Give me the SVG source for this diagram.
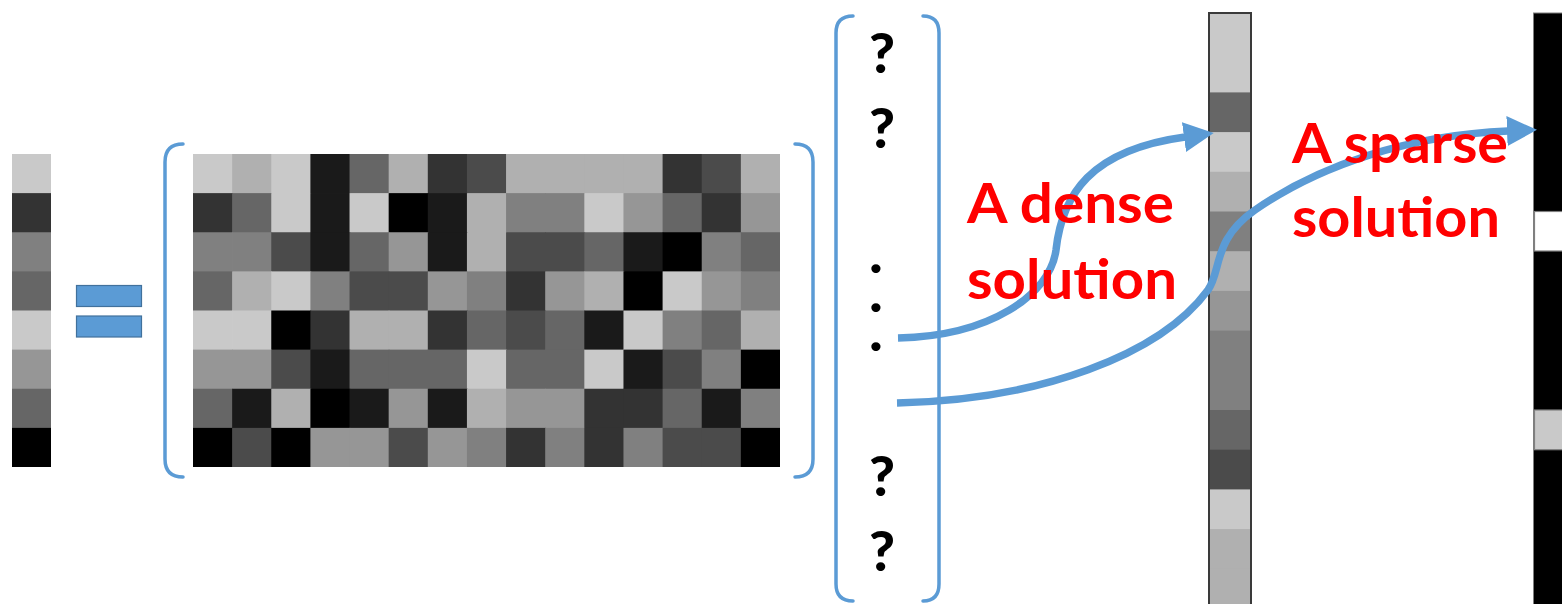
<svg xmlns="http://www.w3.org/2000/svg" width="1562" height="604" viewBox="0 0 1562 604">
<defs>
<style>
.g0{fill:#000000}.g1{fill:#1a1a1a}.g2{fill:#333333}.g3{fill:#4b4b4b}.g4{fill:#666666}.g5{fill:#808080}.g6{fill:#969696}.g7{fill:#b0b0b0}.g8{fill:#c9c9c9}
.br{fill:none;stroke:#5b9bd5;stroke-width:3.5;stroke-linecap:round}
.conn{fill:none;stroke:#5b9bd5;stroke-width:7.5}
.q{font-family:Lato,"Liberation Sans",sans-serif;font-weight:900;font-size:56px;fill:#000;text-anchor:middle}
.lbl{font-family:Lato,"Liberation Sans",sans-serif;font-weight:bold;font-size:56px;fill:#ff0000}
.eq{fill:#5b9bd5;stroke:#41719c;stroke-width:1.2}
</style>
<marker id="ah" markerUnits="userSpaceOnUse" viewBox="0 -15 30 30" refX="1" refY="0" markerWidth="30" markerHeight="30" orient="auto">
<path d="M0,-15 L30,0 L0,15 Z" fill="#5b9bd5"/>
</marker>
</defs>
<rect width="1562" height="604" fill="#ffffff"/>

<g id="vector-b">
<g transform="translate(12,154) scale(39,39.125)">
<rect class="g8" x="0" y="0" width="1" height="1.02"/>
<rect class="g2" x="0" y="1" width="1" height="1.02"/>
<rect class="g5" x="0" y="2" width="1" height="1.02"/>
<rect class="g4" x="0" y="3" width="1" height="1.02"/>
<rect class="g8" x="0" y="4" width="1" height="1.02"/>
<rect class="g6" x="0" y="5" width="1" height="1.02"/>
<rect class="g4" x="0" y="6" width="1" height="1.02"/>
<rect class="g0" x="0" y="7" width="1" height="1"/>
</g>
</g>

<g id="equals">
<rect class="eq" x="76.5" y="285.5" width="65" height="21"/>
<rect class="eq" x="76.5" y="316" width="65" height="21"/>
</g>

<g id="matrix-A">
<path class="br" d="M183,144 Q165,144 165,162 L165,459 Q165,477 183,477"/>
<path class="br" d="M795,144 Q813,144 813,162 L813,459 Q813,477 795,477"/>
<g transform="translate(193,154) scale(39.133,39.125)">
<g transform="translate(0,0)">
<rect class="g8" x="0" width="1.02" height="1.02"/><rect class="g7" x="1" width="1.02" height="1.02"/><rect class="g8" x="2" width="1.02" height="1.02"/><rect class="g1" x="3" width="1.02" height="1.02"/><rect class="g4" x="4" width="1.02" height="1.02"/><rect class="g7" x="5" width="1.02" height="1.02"/><rect class="g2" x="6" width="1.02" height="1.02"/><rect class="g3" x="7" width="1.02" height="1.02"/><rect class="g7" x="8" width="1.02" height="1.02"/><rect class="g7" x="9" width="1.02" height="1.02"/><rect class="g7" x="10" width="1.02" height="1.02"/><rect class="g7" x="11" width="1.02" height="1.02"/><rect class="g2" x="12" width="1.02" height="1.02"/><rect class="g3" x="13" width="1.02" height="1.02"/><rect class="g7" x="14" width="1" height="1.02"/>
</g>
<g transform="translate(0,1)">
<rect class="g2" x="0" width="1.02" height="1.02"/><rect class="g4" x="1" width="1.02" height="1.02"/><rect class="g8" x="2" width="1.02" height="1.02"/><rect class="g1" x="3" width="1.02" height="1.02"/><rect class="g8" x="4" width="1.02" height="1.02"/><rect class="g0" x="5" width="1.02" height="1.02"/><rect class="g1" x="6" width="1.02" height="1.02"/><rect class="g7" x="7" width="1.02" height="1.02"/><rect class="g5" x="8" width="1.02" height="1.02"/><rect class="g5" x="9" width="1.02" height="1.02"/><rect class="g8" x="10" width="1.02" height="1.02"/><rect class="g6" x="11" width="1.02" height="1.02"/><rect class="g4" x="12" width="1.02" height="1.02"/><rect class="g2" x="13" width="1.02" height="1.02"/><rect class="g6" x="14" width="1" height="1.02"/>
</g>
<g transform="translate(0,2)">
<rect class="g5" x="0" width="1.02" height="1.02"/><rect class="g5" x="1" width="1.02" height="1.02"/><rect class="g3" x="2" width="1.02" height="1.02"/><rect class="g1" x="3" width="1.02" height="1.02"/><rect class="g4" x="4" width="1.02" height="1.02"/><rect class="g6" x="5" width="1.02" height="1.02"/><rect class="g1" x="6" width="1.02" height="1.02"/><rect class="g7" x="7" width="1.02" height="1.02"/><rect class="g3" x="8" width="1.02" height="1.02"/><rect class="g3" x="9" width="1.02" height="1.02"/><rect class="g4" x="10" width="1.02" height="1.02"/><rect class="g1" x="11" width="1.02" height="1.02"/><rect class="g0" x="12" width="1.02" height="1.02"/><rect class="g5" x="13" width="1.02" height="1.02"/><rect class="g4" x="14" width="1" height="1.02"/>
</g>
<g transform="translate(0,3)">
<rect class="g4" x="0" width="1.02" height="1.02"/><rect class="g7" x="1" width="1.02" height="1.02"/><rect class="g8" x="2" width="1.02" height="1.02"/><rect class="g5" x="3" width="1.02" height="1.02"/><rect class="g3" x="4" width="1.02" height="1.02"/><rect class="g3" x="5" width="1.02" height="1.02"/><rect class="g6" x="6" width="1.02" height="1.02"/><rect class="g5" x="7" width="1.02" height="1.02"/><rect class="g2" x="8" width="1.02" height="1.02"/><rect class="g6" x="9" width="1.02" height="1.02"/><rect class="g7" x="10" width="1.02" height="1.02"/><rect class="g0" x="11" width="1.02" height="1.02"/><rect class="g8" x="12" width="1.02" height="1.02"/><rect class="g6" x="13" width="1.02" height="1.02"/><rect class="g5" x="14" width="1" height="1.02"/>
</g>
<g transform="translate(0,4)">
<rect class="g8" x="0" width="1.02" height="1.02"/><rect class="g8" x="1" width="1.02" height="1.02"/><rect class="g0" x="2" width="1.02" height="1.02"/><rect class="g2" x="3" width="1.02" height="1.02"/><rect class="g7" x="4" width="1.02" height="1.02"/><rect class="g7" x="5" width="1.02" height="1.02"/><rect class="g2" x="6" width="1.02" height="1.02"/><rect class="g4" x="7" width="1.02" height="1.02"/><rect class="g3" x="8" width="1.02" height="1.02"/><rect class="g4" x="9" width="1.02" height="1.02"/><rect class="g1" x="10" width="1.02" height="1.02"/><rect class="g8" x="11" width="1.02" height="1.02"/><rect class="g5" x="12" width="1.02" height="1.02"/><rect class="g4" x="13" width="1.02" height="1.02"/><rect class="g7" x="14" width="1" height="1.02"/>
</g>
<g transform="translate(0,5)">
<rect class="g6" x="0" width="1.02" height="1.02"/><rect class="g6" x="1" width="1.02" height="1.02"/><rect class="g3" x="2" width="1.02" height="1.02"/><rect class="g1" x="3" width="1.02" height="1.02"/><rect class="g4" x="4" width="1.02" height="1.02"/><rect class="g4" x="5" width="1.02" height="1.02"/><rect class="g4" x="6" width="1.02" height="1.02"/><rect class="g8" x="7" width="1.02" height="1.02"/><rect class="g4" x="8" width="1.02" height="1.02"/><rect class="g4" x="9" width="1.02" height="1.02"/><rect class="g8" x="10" width="1.02" height="1.02"/><rect class="g1" x="11" width="1.02" height="1.02"/><rect class="g3" x="12" width="1.02" height="1.02"/><rect class="g5" x="13" width="1.02" height="1.02"/><rect class="g0" x="14" width="1" height="1.02"/>
</g>
<g transform="translate(0,6)">
<rect class="g4" x="0" width="1.02" height="1.02"/><rect class="g1" x="1" width="1.02" height="1.02"/><rect class="g7" x="2" width="1.02" height="1.02"/><rect class="g0" x="3" width="1.02" height="1.02"/><rect class="g1" x="4" width="1.02" height="1.02"/><rect class="g6" x="5" width="1.02" height="1.02"/><rect class="g1" x="6" width="1.02" height="1.02"/><rect class="g7" x="7" width="1.02" height="1.02"/><rect class="g6" x="8" width="1.02" height="1.02"/><rect class="g6" x="9" width="1.02" height="1.02"/><rect class="g2" x="10" width="1.02" height="1.02"/><rect class="g2" x="11" width="1.02" height="1.02"/><rect class="g4" x="12" width="1.02" height="1.02"/><rect class="g1" x="13" width="1.02" height="1.02"/><rect class="g5" x="14" width="1" height="1.02"/>
</g>
<g transform="translate(0,7)">
<rect class="g0" x="0" width="1.02" height="1"/><rect class="g3" x="1" width="1.02" height="1"/><rect class="g0" x="2" width="1.02" height="1"/><rect class="g6" x="3" width="1.02" height="1"/><rect class="g6" x="4" width="1.02" height="1"/><rect class="g3" x="5" width="1.02" height="1"/><rect class="g6" x="6" width="1.02" height="1"/><rect class="g5" x="7" width="1.02" height="1"/><rect class="g2" x="8" width="1.02" height="1"/><rect class="g5" x="9" width="1.02" height="1"/><rect class="g2" x="10" width="1.02" height="1"/><rect class="g5" x="11" width="1.02" height="1"/><rect class="g3" x="12" width="1.02" height="1"/><rect class="g3" x="13" width="1.02" height="1"/><rect class="g0" x="14" width="1" height="1"/>
</g>
</g>
</g>

<g id="vector-x">
<path class="br" d="M853,16 Q836,16 836,33 L836,584 Q836,601 853,601"/>
<path class="br" d="M923,16 Q939,16 939,33 L939,584 Q939,601 923,601"/>
<text class="q" x="882" y="73">?</text>
<text class="q" x="882" y="148">?</text>
<text class="q" x="876" y="273">.<tspan x="876" dy="39">.</tspan><tspan x="876" dy="39">.</tspan></text>
<text class="q" x="882" y="496">?</text>
<text class="q" x="882" y="571">?</text>
</g>

<g id="dense-solution">
<g transform="translate(1209,13) scale(42,39.7)">
<rect class="g8" y="0" width="1" height="1.02"/>
<rect class="g8" y="1" width="1" height="1.02"/>
<rect class="g4" y="2" width="1" height="1.02"/>
<rect class="g8" y="3" width="1" height="1.02"/>
<rect class="g7" y="4" width="1" height="1.02"/>
<rect class="g5" y="5" width="1" height="1.02"/>
<rect class="g7" y="6" width="1" height="1.02"/>
<rect class="g6" y="7" width="1" height="1.02"/>
<rect class="g5" y="8" width="1" height="1.02"/>
<rect class="g5" y="9" width="1" height="1.02"/>
<rect class="g4" y="10" width="1" height="1.02"/>
<rect class="g3" y="11" width="1" height="1.02"/>
<rect class="g8" y="12" width="1" height="1.02"/>
<rect class="g7" y="13" width="1" height="1.02"/>
<rect class="g7" y="14" width="1" height="1.02"/>
</g>
<rect x="1209" y="13" width="42" height="610" fill="none" stroke="#3a3a3a" stroke-width="2"/>
</g>

<g id="sparse-solution">
<rect x="1533.5" y="13" width="40" height="610" fill="#000000" stroke="#7f7f7f" stroke-width="1"/>
<rect x="1534.5" y="211.5" width="40" height="39.5" fill="#ffffff" stroke="#808080" stroke-width="1.2"/>
<rect x="1534.5" y="410" width="40" height="39.7" fill="#c9c9c9" stroke="#808080" stroke-width="1.2"/>
</g>

<g id="connectors">
<path class="conn" d="M898,338 C990,336 1050,295 1056,250 C1062,195 1090,150 1185,137" marker-end="url(#ah)"/>
<path class="conn" d="M897,403 C1040,400 1160,355 1208,290 C1222,270 1212,240 1255,210 C1320,165 1410,135 1508,131" marker-end="url(#ah)"/>
</g>

<g id="labels">
<text class="lbl" x="967" y="223" textLength="207" lengthAdjust="spacingAndGlyphs">A dense</text>
<text class="lbl" x="967" y="299" textLength="210" lengthAdjust="spacingAndGlyphs">solution</text>
<text class="lbl" x="1292" y="163" textLength="216" lengthAdjust="spacingAndGlyphs">A sparse</text>
<text class="lbl" x="1292" y="237" textLength="208" lengthAdjust="spacingAndGlyphs">solution</text>
</g>
</svg>
